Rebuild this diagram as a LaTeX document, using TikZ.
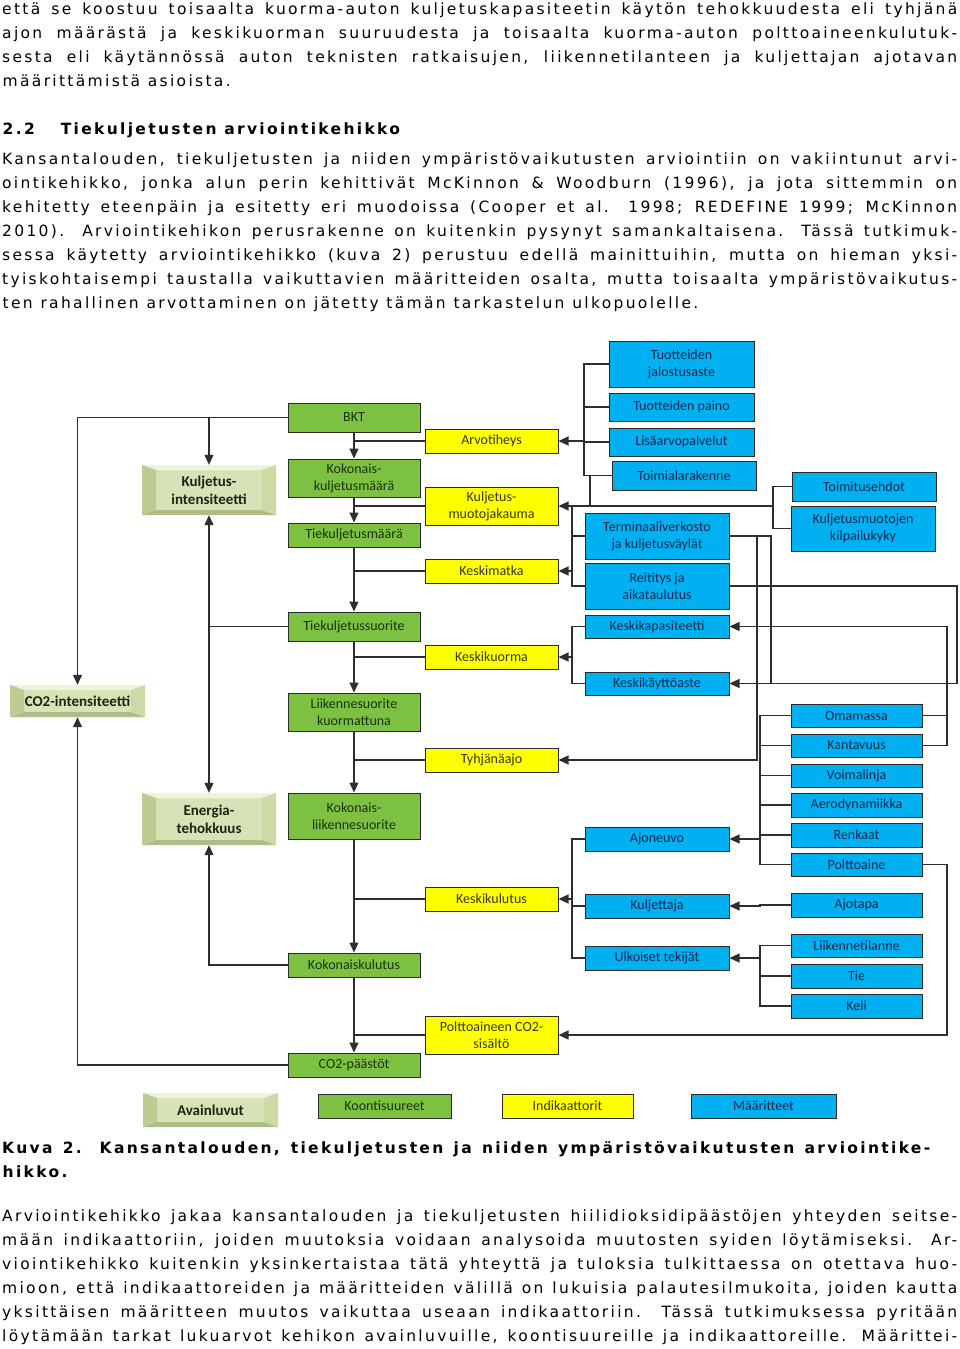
\documentclass[tikz,border=0pt]{standalone}
\usepackage{fontspec}
\setmainfont{DejaVu Sans}[LetterSpace=15]
\newfontfamily\calfont{Carlito}
\usetikzlibrary{arrows.meta}
\definecolor{gfill}{HTML}{7DC143}
\definecolor{yfill}{HTML}{FFFF00}
\definecolor{bfill}{HTML}{00B0F0}
\definecolor{gtext}{HTML}{1A320A}
\definecolor{ytext}{HTML}{36360C}
\definecolor{btext}{HTML}{0A2850}
\definecolor{bd}{HTML}{2A2A2A}
\definecolor{lc}{HTML}{2E2E2E}
\definecolor{kmid}{HTML}{D6E3B6}
\definecolor{ktop}{HTML}{EEF3DD}
\definecolor{kbot}{HTML}{AEBD88}
\definecolor{kleft}{HTML}{BCCC92}
\definecolor{kright}{HTML}{CCDAA6}
\definecolor{ktext}{HTML}{1A2612}
\newcommand\bxf{\calfont\fontsize{14}{17}\selectfont}
\newcommand\kff{\calfont\bfseries\fontsize{15}{18}\selectfont}
\newcommand\bodyf{\fontsize{15.5}{24}\selectfont\spaceskip=0.5em plus 1.5em minus 0.2em}
\newcommand\jl[1]{\makebox[955pt][s]{\bodyf #1}}
\newcommand\rl[1]{\makebox[0pt][l]{\bodyf #1}}
\newcommand\bx[7]{\node[#2, minimum width={#5pt-#3pt}, minimum height={#6pt-#4pt}] (#1) at ({(#3+#5)/2},{(#4+#6)/2}) {#7};}
\begin{document}
\begin{tikzpicture}[x=1pt,y=-1pt,
 ln/.style={draw=lc, line width=1.2pt},
 arr/.style={ln, -{Triangle[length=10pt,width=9pt]}},
 boxbase/.style={rectangle, inner sep=0pt, align=center, font=\bxf, draw=bd, line width=1pt},
 gbox/.style={boxbase, fill=gfill, text=gtext},
 ybox/.style={boxbase, fill=yfill, text=ytext},
 bbox/.style={boxbase, fill=bfill, text=btext},
 kfig/.style={rectangle, inner sep=0pt, align=center, font=\kff, text=ktext,
  path picture={
   \path (path picture bounding box.south west) coordinate (kSW)
         (path picture bounding box.north east) coordinate (kNE)
         (path picture bounding box.north west) coordinate (kNW)
         (path picture bounding box.south east) coordinate (kSE);
   \fill[kmid] (kSW) rectangle (kNE);
   \fill[ktop] (kNW) -- (kNE) -- ([xshift=-14pt,yshift=-5pt]kNE) -- ([xshift=14pt,yshift=-5pt]kNW) -- cycle;
   \fill[kbot] (kSW) -- (kSE) -- ([xshift=-14pt,yshift=5pt]kSE) -- ([xshift=14pt,yshift=5pt]kSW) -- cycle;
   \fill[kleft] (kSW) -- (kNW) -- ([xshift=14pt,yshift=-5pt]kNW) -- ([xshift=14pt,yshift=5pt]kSW) -- cycle;
   \fill[kright] (kSE) -- (kNE) -- ([xshift=-14pt,yshift=-5pt]kNE) -- ([xshift=-14pt,yshift=5pt]kSE) -- cycle;
  }},
 txt/.style={anchor=base west, inner sep=0pt}
]
\useasboundingbox[fill=white] (0,0) rectangle (960,1349);

% ---------- body text above ----------
\node[txt] (t1) at (2,14) {\jl{että se koostuu toisaalta kuorma-auton kuljetuskapasiteetin käytön tehokkuudesta eli tyhjänä}};
\node[txt] (t2) at (2,38) {\jl{ajon määrästä ja keskikuorman suuruudesta ja toisaalta kuorma-auton polttoaineenkulutuk-}};
\node[txt] (t3) at (2,62) {\jl{sesta eli käytännössä auton teknisten ratkaisujen, liikennetilanteen ja kuljettajan ajotavan}};
\node[txt] (t4) at (2,86) {\rl{määrittämistä asioista.}};
\node[txt] (hd) at (2,134) {\rl{\bfseries 2.2\hspace{26pt}Tiekuljetusten arviointikehikko}};
\node[txt] (p1) at (2,164) {\jl{Kansantalouden, tiekuljetusten ja niiden ympäristövaikutusten arviointiin on vakiintunut arvi-}};
\node[txt] (p2) at (2,188) {\jl{ointikehikko, jonka alun perin kehittivät McKinnon \& Woodburn (1996), ja jota sittemmin on}};
\node[txt] (p3) at (2,212) {\jl{kehitetty eteenpäin ja esitetty eri muodoissa (Cooper et al. 1998; REDEFINE 1999; McKinnon}};
\node[txt] (p4) at (2,236) {\jl{2010). Arviointikehikon perusrakenne on kuitenkin pysynyt samankaltaisena. Tässä tutkimuk-}};
\node[txt] (p5) at (2,260) {\jl{sessa käytetty arviointikehikko (kuva 2) perustuu edellä mainittuihin, mutta on hieman yksi-}};
\node[txt] (p6) at (2,284) {\jl{tyiskohtaisempi taustalla vaikuttavien määritteiden osalta, mutta toisaalta ympäristövaikutus-}};
\node[txt] (p7) at (2,308) {\rl{ten rahallinen arvottaminen on jätetty tämän tarkastelun ulkopuolelle.}};

% ---------- caption and text below ----------
\node[txt] (c1) at (2,1153) {\makebox[928pt][s]{\bodyf\bfseries Kuva 2. Kansantalouden, tiekuljetusten ja niiden ympäristövaikutusten arviointike-}};
\node[txt] (c2) at (2,1177) {\rl{\bfseries hikko.}};
\node[txt] (q1) at (2,1221) {\jl{Arviointikehikko jakaa kansantalouden ja tiekuljetusten hiilidioksidipäästöjen yhteyden seitse-}};
\node[txt] (q2) at (2,1245) {\jl{mään indikaattoriin, joiden muutoksia voidaan analysoida muutosten syiden löytämiseksi. Ar-}};
\node[txt] (q3) at (2,1269) {\jl{viointikehikko kuitenkin yksinkertaistaa tätä yhteyttä ja tuloksia tulkittaessa on otettava huo-}};
\node[txt] (q4) at (2,1293) {\jl{mioon, että indikaattoreiden ja määritteiden välillä on lukuisia palautesilmukoita, joiden kautta}};
\node[txt] (q5) at (2,1317) {\jl{yksittäisen määritteen muutos vaikuttaa useaan indikaattoriin. Tässä tutkimuksessa pyritään}};
\node[txt] (q6) at (2,1341) {\jl{löytämään tarkat lukuarvot kehikon avainluvuille, koontisuureille ja indikaattoreille. Määrittei-}};

% ---------- key figures ----------
\bx{kint}{kfig}{142}{465}{276}{515}{Kuljetus-\\intensiteetti}
\bx{cint}{kfig}{10}{685}{145}{717}{CO2-intensiteetti}
\bx{etk}{kfig}{142}{793}{276}{845}{Energia-\\tehokkuus}

% ---------- aggregates (green) ----------
\bx{bkt}{gbox}{288}{403}{420}{432}{BKT}
\bx{kkm}{gbox}{288}{459}{420}{497}{Kokonais-\\kuljetusmäärä}
\bx{tkm}{gbox}{288}{523}{420}{547}{Tiekuljetusmäärä}
\bx{tks}{gbox}{288}{612}{420}{641}{Tiekuljetussuorite}
\bx{lsk}{gbox}{288}{693}{420}{731}{Liikennesuorite\\kuormattuna}
\bx{kls}{gbox}{288}{793}{420}{839}{Kokonais-\\liikennesuorite}
\bx{kkul}{gbox}{288}{953}{420}{977}{Kokonaiskulutus}
\bx{co2}{gbox}{288}{1053}{420}{1077}{CO2-päästöt}

% ---------- indicators (yellow) ----------
\bx{arvo}{ybox}{425}{429}{558}{453}{Arvotiheys}
\bx{kmj}{ybox}{425}{487}{558}{525}{Kuljetus-\\muotojakauma}
\bx{km}{ybox}{425}{559}{558}{583}{Keskimatka}
\bx{kuo}{ybox}{425}{645}{558}{669}{Keskikuorma}
\bx{tyh}{ybox}{425}{748}{558}{772}{Tyhjänäajo}
\bx{kesk}{ybox}{425}{887}{558}{911}{Keskikulutus}
\bx{pco}{ybox}{425}{1016}{558}{1054}{Polttoaineen CO2-\\sisältö}

% ---------- attributes (blue) ----------
\bx{tja}{bbox}{609}{341}{754}{387}{Tuotteiden\\jalostusaste}
\bx{tpa}{bbox}{609}{393}{754}{421}{Tuotteiden paino}
\bx{lap}{bbox}{609}{428}{754}{456}{Lisäarvopalvelut}
\bx{tor}{bbox}{612}{461}{756}{490}{Toimialarakenne}
\bx{teh}{bbox}{792}{472}{936}{501}{Toimitusehdot}
\bx{kmk}{bbox}{791}{506}{935}{551}{Kuljetusmuotojen\\kilpailukyky}
\bx{tv}{bbox}{585}{513}{729}{559}{Terminaaliverkosto\\ja kuljetusväylät}
\bx{ra}{bbox}{585}{563}{729}{609}{Reititys ja\\aikataulutus}
\bx{kk}{bbox}{585}{615}{729}{638}{Keskikapasiteetti}
\bx{kka}{bbox}{585}{672}{729}{695}{Keskikäyttöaste}
\bx{om}{bbox}{791}{704}{922}{727}{Omamassa}
\bx{kan}{bbox}{791}{734}{922}{757}{Kantavuus}
\bx{vl}{bbox}{791}{764}{922}{787}{Voimalinja}
\bx{aer}{bbox}{791}{793}{922}{817}{Aerodynamiikka}
\bx{ren}{bbox}{791}{823}{922}{847}{Renkaat}
\bx{pa}{bbox}{791}{853}{922}{876}{Polttoaine}
\bx{ajo}{bbox}{585}{827}{729}{851}{Ajoneuvo}
\bx{kul}{bbox}{585}{894}{729}{918}{Kuljettaja}
\bx{ajt}{bbox}{791}{893}{922}{917}{Ajotapa}
\bx{ut}{bbox}{585}{946}{729}{970}{Ulkoiset tekijät}
\bx{lt}{bbox}{791}{934}{922}{957}{Liikennetilanne}
\bx{tie}{bbox}{791}{964}{922}{988}{Tie}
\bx{keli}{bbox}{791}{994}{922}{1018}{Keli}

% ---------- legend ----------
\bx{lav}{kfig}{143}{1093}{278}{1127}{Avainluvut}
\bx{lko}{gbox}{318}{1094}{451}{1118}{Koontisuureet}
\bx{lin}{ybox}{502}{1094}{633}{1118}{Indikaattorit}
\bx{lma}{bbox}{691}{1094}{836}{1118}{Määritteet}

% ---------- bracket columns ----------
\coordinate (bA) at (584,0);
\coordinate (bB) at (590,0);
\coordinate (bC) at (773,0);
\coordinate (bD) at (572,0);
\coordinate (bE) at (771,0);
\coordinate (bF) at (957,0);
\coordinate (bG) at (757,0);
\coordinate (bH) at (947,0);
\coordinate (bI) at (760,0);

% ---------- green chain ----------
\draw[arr] (bkt) -- (kkm);
\draw[arr] (kkm) -- (tkm);
\draw[arr] (tkm) -- (tks);
\draw[arr] (tks) -- (lsk);
\draw[arr] (lsk) -- (kls);
\draw[arr] (kls) -- (kkul);
\draw[arr] (kkul) -- (co2);
\foreach \y in {arvo,kmj,km,kuo,tyh,kesk,pco}
  \draw[ln] (\y.west) -- (\y.west -| bkt.south);

% ---------- key figure links ----------
\draw[arr] (bkt.west) -| (cint.north);
\draw[arr] (bkt.west -| kint.north) -- (kint.north);
\draw[arr] (tks.west) -| (kint.south);
\draw[arr] (tks.west -| etk.north) -- (etk.north);
\draw[arr] (kkul.west) -| (etk.south);
\draw[arr] (co2.west) -| (cint.south);

% ---------- attribute links ----------
\draw[ln] (tja.west) -- (tja.west -| bA) -- (tor.west -| bA) -- (tor.west);
\draw[ln] (tpa.west) -- (tpa.west -| bA);
\draw[ln] (lap.west) -- (lap.west -| bA);
\draw[arr] (arvo.east -| bA) -- (arvo.east);
\draw[ln] (tor.west -| bB) -- (kmj.east -| bB);
\draw[ln] (teh.west) -- (teh.west -| bC) -- (kmk.west -| bC) -- (kmk.west);
\draw[arr] (kmj.east -| bC) -- (kmj.east);
\draw[ln] (tv.west) -- (tv.west -| bD);
\draw[ln] (kmj.east -| bD) -- (ra.west -| bD) -- (ra.west);
\draw[arr] (km.east -| bD) -- (km.east);
\draw[ln] (kk.west) -- (kk.west -| bD) -- (kka.west -| bD) -- (kka.west);
\draw[arr] (kuo.east -| bD) -- (kuo.east);
\draw[ln] (tv.east) -- (tv.east -| bE) -- (kka.east -| bE);
\draw[arr] (ra.east) -- (ra.east -| bF) -- (kka.east -| bF) -- (kka.east);
\draw[arr] (tv.east -| bG) -- (tyh.east -| bG) -- (tyh.east);
\draw[ln] (om.east) -- (om.east -| bH);
\draw[arr] (kan.east) -- (kan.east -| bH) -- (kk.east -| bH) -- (kk.east);
\draw[ln] (om.west) -- (om.west -| bI) -- (pa.west -| bI) -- (pa.west);
\foreach \v in {kan,vl,aer,ren}
  \draw[ln] (\v.west) -- (\v.west -| bI);
\draw[arr] (ajo.east -| bI) -- (ajo.east);
\draw[arr] (pa.east) -- (pa.east -| bH) -- (pco.east -| bH) -- (pco.east);
\draw[arr] (ajt.west) -- (ajt.west -| bI) -- (kul.east -| bI) -- (kul.east);
\draw[ln] (lt.west) -- (lt.west -| bI) -- (keli.west -| bI) -- (keli.west);
\draw[ln] (tie.west) -- (tie.west -| bI);
\draw[arr] (ut.east -| bI) -- (ut.east);
\draw[ln] (ajo.west) -- (ajo.west -| bD) -- (ut.west -| bD) -- (ut.west);
\draw[ln] (kul.west) -- (kul.west -| bD);
\draw[arr] (kesk.east -| bD) -- (kesk.east);
\end{tikzpicture}
\end{document}
